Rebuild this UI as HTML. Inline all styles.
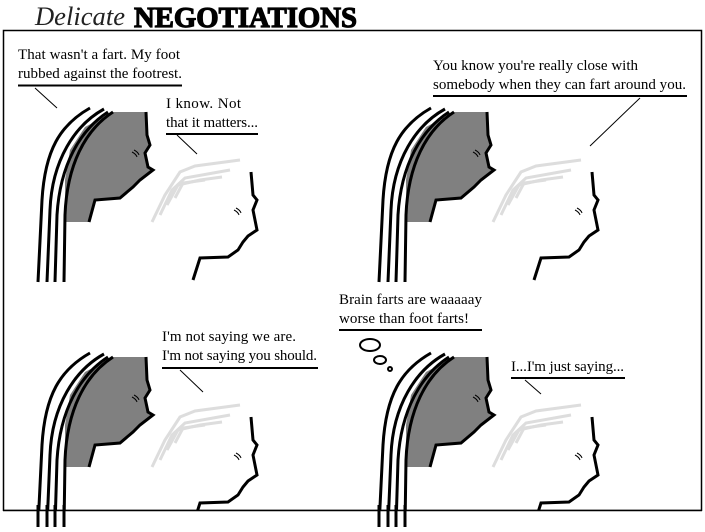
<!DOCTYPE html>
<html><head><style>body{margin:0;background:#fff}svg{display:block}</style></head><body>
<svg width="705" height="532" viewBox="0 0 705 532" xmlns="http://www.w3.org/2000/svg">
<rect width="705" height="532" fill="#fff"/>
<text x="35" y="25" font-family="Liberation Serif, serif" font-style="italic" font-size="26" fill="#222" textLength="90" lengthAdjust="spacingAndGlyphs">Delicate</text>
<text x="134" y="27" font-family="Liberation Serif, serif" font-weight="bold" font-size="29" fill="#000" textLength="223" lengthAdjust="spacingAndGlyphs" stroke="#000" stroke-width="1.2">NEGOTIATIONS</text>
<rect x="3.5" y="30.5" width="698" height="480" fill="none" stroke="#000" stroke-width="1.5"/>
<defs>
<g id="pair">
<polygon points="65,222 65,180 70,150 85,127 113,112 146,112 147,135 150,145 145,153 148,167 153,170 140,180 120,198 95,200 89,222" fill="#808080"/>
<path d="M146,112 L147,135 L150,145 L145,153 L148,167 L153,170 L140,180 L133,187 L120,198 L95,200 L89,222" fill="none" stroke="#000" stroke-width="3"/>
<g fill="none" stroke="#000" stroke-width="3">
<path d="M90,108 C60,125 45,150 42,200 L38,282"/>
<path d="M104,109 C75,125 52,160 50,210 L47,282"/>
<path d="M108,112 C80,130 60,165 57,215 L55,282"/>
<path d="M113,112 C85,130 67,165 65,215 L64,282"/>
</g>
<path d="M134,150 q4,2 5,5 M132,152 q4,2 5,5" stroke="#000" stroke-width="1" fill="none"/>
<g fill="none" stroke="#ddd" stroke-width="3">
<path d="M152,222 L165,195 L180,172 L195,166 L240,160"/>
<path d="M160,215 L172,190 L185,178 L230,170"/>
<path d="M167,205 L178,185 L200,180 L222,177"/>
<path d="M175,198 L183,183 L205,180"/>
</g>
<path d="M251,172 L253,195 L257,200 L253,210 L257,230 L248,236 L243,242 L238,250 L228,257 L200,258 L193,280" fill="none" stroke="#000" stroke-width="3"/>
<path d="M236,208 q4,2 5,5 M234,210 q4,2 5,5" stroke="#000" stroke-width="1" fill="none"/>
</g>
</defs>
<use href="#pair"/>
<use href="#pair" transform="translate(341,0)"/>
<use href="#pair" transform="translate(0,245)"/>
<use href="#pair" transform="translate(341,245)"/>
<rect x="0" y="511" width="705" height="21" fill="#fff"/>
<g stroke="#000" stroke-width="3">
<line x1="38" y1="505" x2="38" y2="527"/><line x1="47" y1="505" x2="47" y2="527"/><line x1="55" y1="505" x2="55" y2="527"/><line x1="64" y1="505" x2="64" y2="527"/>
<line x1="379" y1="505" x2="379" y2="527"/><line x1="388" y1="505" x2="388" y2="527"/><line x1="396" y1="505" x2="396" y2="527"/><line x1="405" y1="505" x2="405" y2="527"/>
</g>
<line x1="3" y1="510.5" x2="702" y2="510.5" stroke="#000" stroke-width="1.5"/>
<g font-family="Liberation Serif, serif" font-size="15" fill="#000" lengthAdjust="spacingAndGlyphs">
<text x="18" y="59" textLength="162">That wasn't a fart. My foot</text>
<text x="18" y="78" textLength="164">rubbed against the footrest.</text>
<text x="166" y="108" textLength="75">I know. Not</text>
<text x="166" y="127" textLength="92">that it matters...</text>
<text x="433" y="70" textLength="205">You know you're really close with</text>
<text x="433" y="89" textLength="253">somebody when they can fart around you.</text>
<text x="162" y="341" textLength="134">I'm not saying we are.</text>
<text x="162" y="360" textLength="155">I'm not saying you should.</text>
<text x="339" y="304" textLength="143">Brain farts are waaaaay</text>
<text x="339" y="323" textLength="130">worse than foot farts!</text>
<text x="511" y="371" textLength="113">I...I'm just saying...</text>
</g>
<g stroke="#000">
<line x1="18" y1="85.5" x2="182" y2="85.5" stroke-width="2"/><line x1="35" y1="88" x2="57" y2="108"/>
<line x1="166" y1="134" x2="258" y2="134" stroke-width="2"/><line x1="177" y1="135" x2="197" y2="154"/>
<line x1="433" y1="96" x2="687" y2="96" stroke-width="2"/><line x1="640" y1="98" x2="590" y2="146"/>
<line x1="162" y1="368" x2="318" y2="368" stroke-width="2"/><line x1="180" y1="370" x2="203" y2="392"/>
<line x1="339" y1="330" x2="482" y2="330" stroke-width="2"/>
<line x1="511" y1="378" x2="625" y2="378" stroke-width="2"/><line x1="525" y1="380" x2="541" y2="394"/>
</g>
<g fill="none" stroke="#000" stroke-width="2">
<ellipse cx="370" cy="345" rx="10" ry="6"/><ellipse cx="380" cy="360" rx="6" ry="4"/><circle cx="390" cy="369" r="2"/>
</g>
</svg>
</body></html>
